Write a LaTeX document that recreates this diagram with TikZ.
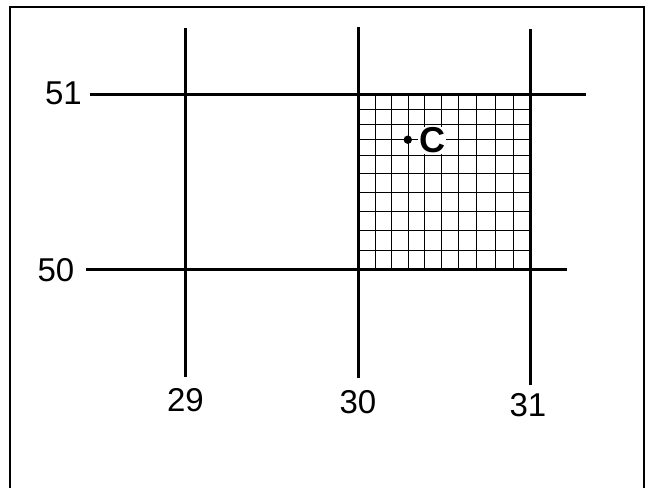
\documentclass[tikz,border=0pt]{standalone}
\usepackage{fontspec}
\setmainfont{Liberation Sans}
\usetikzlibrary{positioning}

\begin{document}
\begin{tikzpicture}[
    x=0.5pt, y=-0.5pt,
    every node/.style={font=\fontsize{16.5}{19}\selectfont},
    framebox/.style ={line width=0.6pt, draw=black},
    mainline/.style ={line width=1.5pt, draw=black, line cap=butt},
    gridline/.style ={line width=0.5pt, draw=black},
    coordlabel/.style={inner sep=0pt},
    pointlabel/.style={inner sep=0.6pt, fill=white, font=\fontsize{18}{20}\selectfont\bfseries}
]
\useasboundingbox (0,0) rectangle (649,488);
\draw[framebox] (10,500) -- (10,7) -- (644,7) -- (644,500);
% fine grid in the cell 30--31 / 50--51
\foreach \gx in {375.7,391.7,408.3,424.3,441,458.3,476.7,495,513.3}
  \draw[gridline] (\gx,94) -- (\gx,269);
\foreach \gy in {109.3,124.3,139.3,155,173.3,192.7,211.7,230.7,250}
  \draw[gridline] (358,\gy) -- (530,\gy);
% meridians and parallels
\draw[mainline] (185,28) -- (185,377);
\draw[mainline] (358,27) -- (358,378);
\draw[mainline] (530,29) -- (530,385);
\draw[mainline] (90,94) -- (586,94);
\draw[mainline] (86,269) -- (567,269);
% labels
\node[coordlabel] (lat51) at (63.5,93.5) {51};
\node[coordlabel] (lat50) at (56,270) {50};
\node[coordlabel] (lon29) at (185.5,400) {29};
\node[coordlabel] (lon30) at (358,402) {30};
\node[coordlabel] (lon31) at (528,405) {31};
% point C
\fill (407.8,139.7) circle (4.2);
\node[pointlabel] (ptC) at (432,140.5) {C};
\end{tikzpicture}
\end{document}
